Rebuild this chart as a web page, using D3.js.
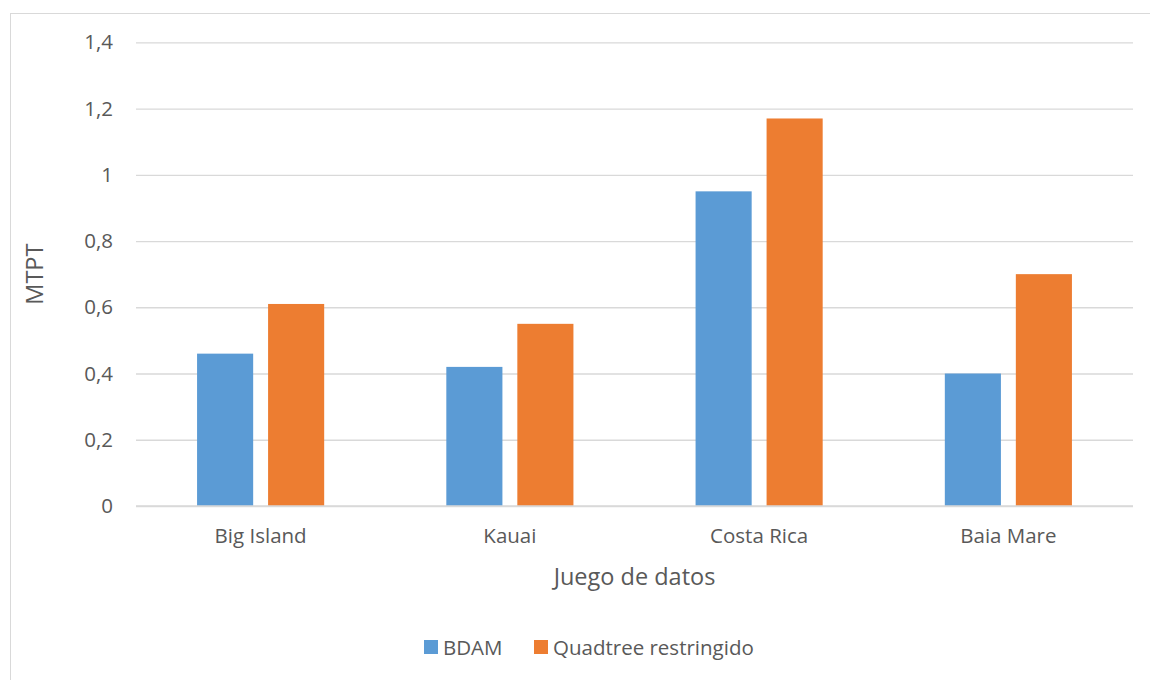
<!DOCTYPE html>
<html>
<head>
<meta charset="utf-8">
<script src="https://cdn.jsdelivr.net/npm/d3@7/dist/d3.min.js"></script>
<style>
  html, body { margin: 0; padding: 0; background: #fff; }
  svg text { font-family: "Open Sans", "Noto Sans", sans-serif; fill: #595959; }
</style>
</head>
<body>
<svg id="chart" width="1150" height="680"></svg>
<script>
// Data
const categories = ["Big Island", "Kauai", "Costa Rica", "Baia Mare"];
const seriesNames = ["BDAM", "Quadtree restringido"];
const bdam = [0.46, 0.42, 0.95, 0.40];
const quadtree = [0.61, 0.55, 1.17, 0.70];
const yTicks = [0, 0.2, 0.4, 0.6, 0.8, 1, 1.2, 1.4];
const colors = ["#5B9BD5", "#ED7D31"];

const seriesValues = [bdam, quadtree];

const svg = d3.select("#chart");
const W = 1150, H = 680;

// Chart frame
svg.append("rect")
  .attr("x", 10.5).attr("y", 13.5)
  .attr("width", W + 10).attr("height", H + 10)
  .attr("fill", "none").attr("stroke", "#d9d9d9").attr("stroke-width", 1);

const plot = { left: 136, right: 1133, top: 42.3, bottom: 506 };

const x0 = d3.scaleBand().domain(categories).range([plot.left, plot.right]).padding(0);
const x1 = d3.scaleBand().domain(seriesNames).range([0, x0.bandwidth()])
  .paddingInner(0.21).paddingOuter(0.86);
const y = d3.scaleLinear().domain([0, 1.4]).range([plot.bottom, plot.top]);

const fmt = d => String(d).replace(".", ",");

// Gridlines + tick labels via axis
const yAxis = d3.axisLeft(y).tickValues(yTicks).tickFormat(fmt)
  .tickSize(-(plot.right - plot.left)).tickPadding(23);
const gy = svg.append("g").attr("transform", `translate(${plot.left},0)`).call(yAxis);
gy.select(".domain").remove();
gy.selectAll(".tick line").attr("stroke", "#d9d9d9").attr("stroke-width", 1.3);
gy.selectAll(".tick text").attr("font-size", 20.5).style("font-family", '"Open Sans", sans-serif').attr("fill", "#595959");

// Bars
const groups = svg.append("g").selectAll("g")
  .data(categories)
  .join("g")
  .attr("transform", c => `translate(${x0(c)},0)`);

groups.selectAll("rect")
  .data((c, i) => seriesNames.map((s, k) => ({ s, v: seriesValues[k][i], k })))
  .join("rect")
  .attr("x", d => x1(d.s))
  .attr("width", x1.bandwidth())
  .attr("y", d => y(d.v))
  .attr("height", d => y(0) - y(d.v))
  .attr("fill", d => colors[d.k]);

// Category axis labels
const xAxis = d3.axisBottom(x0).tickSize(0).tickPadding(22);
const gx = svg.append("g").attr("transform", `translate(0,${plot.bottom})`).call(xAxis);
gx.select(".domain").remove();
gx.selectAll(".tick text").attr("font-size", 20.5).style("font-family", '"Open Sans", sans-serif').attr("fill", "#595959");

// Redraw baseline over the bars
svg.append("line")
  .attr("x1", plot.left).attr("x2", plot.right)
  .attr("y1", y(0)).attr("y2", y(0))
  .attr("stroke", "#d9d9d9").attr("stroke-width", 1.3);

// Axis titles
svg.append("text")
  .attr("transform", `translate(43,${(plot.top + plot.bottom) / 2}) rotate(-90)`)
  .attr("text-anchor", "middle")
  .attr("font-size", 23.5)
  .text("MTPT");

svg.append("text")
  .attr("x", (plot.left + plot.right) / 2)
  .attr("y", 585)
  .attr("text-anchor", "middle")
  .attr("font-size", 23.5)
  .text("Juego de datos");

// Legend
const legend = svg.append("g");
const legendItems = [{ name: seriesNames[0], x: 424 }, { name: seriesNames[1], x: 534 }];
legendItems.forEach((it, k) => {
  legend.append("rect")
    .attr("x", it.x).attr("y", 640)
    .attr("width", 14).attr("height", 14)
    .attr("fill", colors[k]);
  legend.append("text")
    .attr("x", it.x + 19).attr("y", 655)
    .attr("font-size", 20.5)
    .text(it.name);
});
</script>
</body>
</html>
